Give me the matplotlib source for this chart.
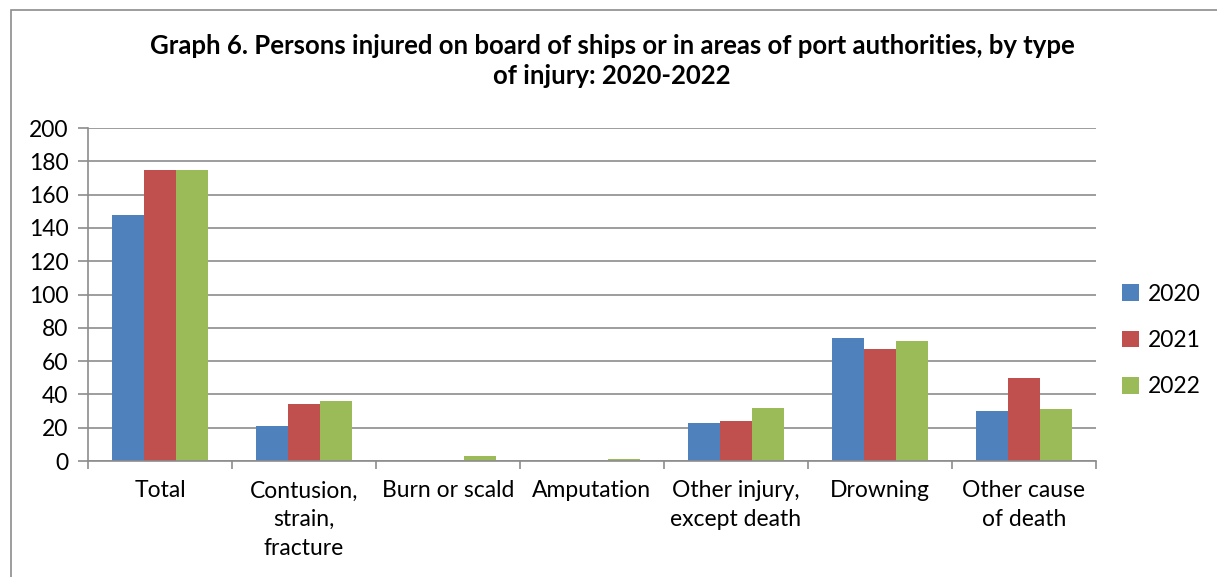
import matplotlib.pyplot as plt
import numpy as np
from matplotlib.patches import Patch

categories = ["Total", "Contusion,\nstrain,\nfracture", "Burn or scald", "Amputation",
              "Other injury,\nexcept death", "Drowning", "Other cause\nof death"]
years = ["2020", "2021", "2022"]
values_2020 = [148, 21, 0, 0, 23, 74, 30]
values_2021 = [175, 34, 0, 0, 24, 67, 50]
values_2022 = [175, 36, 3, 1, 32, 72, 31]
colors = ["#4F81BD", "#C0504D", "#9BBB59"]

plt.rcParams["font.family"] = ["Lato", "DejaVu Sans"]

fig = plt.figure(figsize=(12.17, 5.77), dpi=100)
ax = fig.add_axes([0.0723, 0.201, 0.828, 0.577])

# chart frame (right/bottom run off the picture)
fig.add_artist(plt.Rectangle((11 / 1217, -0.1), 1.2, 1 - 10 / 577 + 0.1,
                             transform=fig.transFigure, fill=False,
                             edgecolor="#8c8c8c", linewidth=1.2))

x = np.arange(len(categories))
w = 1 / 4.5
for i, (vals, c) in enumerate(zip([values_2020, values_2021, values_2022], colors)):
    ax.bar(x + (i - 1) * w, vals, width=w, color=c, zorder=2)

ax.set_xlim(-0.5, len(categories) - 0.5)
ax.set_ylim(0, 200)
ax.set_yticks(range(0, 201, 20))
ax.yaxis.grid(True, color="#8c8c8c", linewidth=1.2, zorder=0)
ax.set_axisbelow(True)

ax.set_xticks(x)
ax.set_xticklabels(categories, fontsize=16.5, linespacing=1.45)
ax.set_xticks(np.arange(-0.5, len(categories)), minor=True)
ax.tick_params(axis="x", which="major", length=0, pad=14)
ax.tick_params(axis="x", which="minor", length=6, width=1.2, color="#8c8c8c", direction="out")
ax.tick_params(axis="y", length=7, width=1.2, color="#8c8c8c", labelsize=16.5, pad=7)

for side in ["top", "right"]:
    ax.spines[side].set_visible(False)
for side in ["left", "bottom"]:
    ax.spines[side].set_color("#8c8c8c")
    ax.spines[side].set_linewidth(1.2)

handles = [Patch(facecolor=c) for c in colors]
fig.legend(handles, years, loc="center left", bbox_to_anchor=(0.905, 0.41),
           frameon=False, fontsize=16.5, handlelength=0.75, handleheight=0.75,
           handletextpad=0.4, labelspacing=1.1)

fig.text(0.503, 0.895, "Graph 6. Persons injured on board of ships or in areas of port authorities, by type\nof injury: 2020-2022",
         ha="center", va="center", fontsize=18.5, fontweight="bold", linespacing=1.3)

fig.savefig("out.png", dpi=100)
